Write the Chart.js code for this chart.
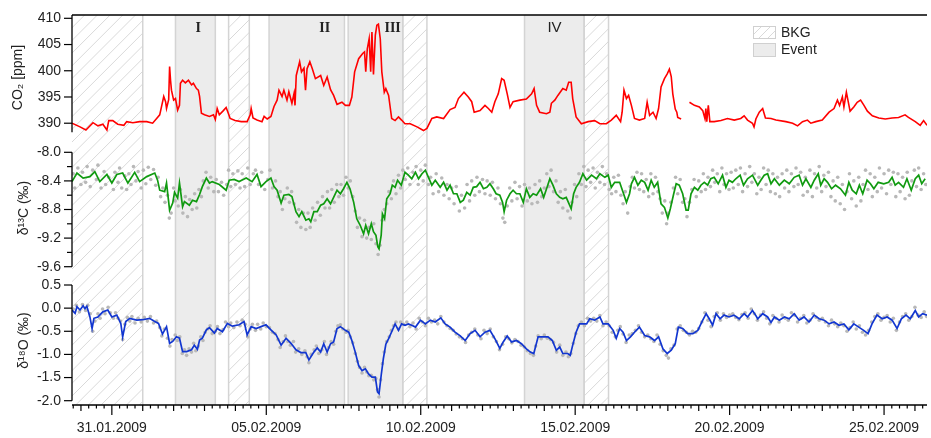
<!DOCTYPE html>
<html>
<head>
<meta charset="utf-8">
<script src="https://cdn.jsdelivr.net/npm/chart.js@4/dist/chart.umd.min.js"></script>
<style>
  html, body { margin: 0; padding: 0; background: #fff; }
  canvas { display: block; }
</style>
</head>
<body>
<canvas id="chart" width="931" height="438"></canvas>
<script>
// ---------- data (x = days after 31.01.2009 00:00) ----------
const majorDays = [0, 5, 10, 15, 20, 25];
const co2Ticks = [390, 395, 400, 405, 410];
const c13Ticks = [-8.0, -8.4, -8.8, -9.2, -9.6];
const c13MinorTicks = [-8.2, -8.6, -9.0, -9.4];
const o18Ticks = [0.5, 0.0, -0.5, -1.0, -1.5, -2.0];

const bkgBands = [[-1.29, 1.0], [3.78, 4.45], [9.42, 10.2], [15.29, 16.08]];
const eventBands = [[2.06, 3.35], [5.09, 7.53], [7.65, 9.42], [13.36, 15.29]];
const eventNames = ['I', 'II', 'III', 'IV'];
const eventLabelDay = [2.80, 6.89, 9.09, 14.33];

// CO2 [ppm]
const co2Series = [[-1.29,390.0],[-1.03,389.3],[-0.84,388.7],[-0.61,390.1],[-0.45,389.5],[-0.29,389.8],[-0.16,388.7],[-0.10,390.5],[0.03,390.5],[0.19,389.8],[0.39,389.6],[0.48,390.3],[0.68,390.1],[0.90,390.3],[1.13,390.3],[1.32,390.0],[1.45,390.9],[1.55,391.6],[1.61,393.2],[1.68,395.1],[1.74,394.1],[1.77,392.8],[1.84,394.5],[1.87,400.8],[1.90,398.2],[1.93,396.3],[2.00,394.4],[2.06,394.7],[2.13,392.5],[2.19,393.4],[2.22,397.6],[2.29,398.2],[2.38,397.7],[2.48,398.2],[2.58,397.3],[2.64,397.6],[2.74,396.6],[2.80,396.3],[2.84,395.1],[2.90,391.9],[3.00,391.6],[3.16,391.3],[3.29,391.6],[3.35,390.7],[3.41,392.8],[3.48,391.6],[3.61,392.4],[3.70,393.0],[3.77,391.9],[3.83,390.9],[3.99,390.5],[4.19,390.3],[4.38,390.3],[4.48,391.6],[4.51,392.8],[4.57,391.0],[4.70,390.6],[4.86,390.3],[4.93,391.3],[5.03,390.8],[5.15,391.3],[5.25,393.2],[5.35,394.4],[5.41,396.3],[5.51,395.1],[5.57,396.3],[5.67,394.4],[5.73,396.0],[5.83,393.8],[5.90,395.7],[5.93,393.4],[5.97,399.1],[6.08,401.7],[6.14,399.8],[6.22,400.5],[6.27,396.3],[6.32,400.4],[6.41,401.7],[6.49,400.4],[6.59,398.5],[6.76,399.1],[6.86,397.2],[6.97,398.8],[7.08,396.4],[7.18,395.3],[7.29,393.6],[7.45,394.0],[7.56,393.4],[7.69,393.4],[7.77,395.0],[7.86,399.8],[7.99,402.3],[8.12,403.3],[8.18,403.6],[8.22,399.8],[8.27,404.2],[8.33,406.1],[8.38,399.8],[8.42,407.4],[8.47,399.3],[8.53,406.8],[8.58,408.7],[8.63,408.9],[8.69,406.1],[8.74,399.8],[8.82,395.9],[8.87,396.6],[8.96,395.3],[9.06,390.9],[9.17,390.5],[9.28,391.2],[9.38,390.6],[9.49,389.9],[9.66,389.9],[9.88,389.3],[10.09,388.6],[10.20,389.0],[10.36,390.9],[10.52,391.2],[10.74,390.9],[10.95,392.6],[11.11,393.0],[11.22,394.7],[11.40,395.9],[11.54,395.0],[11.65,394.1],[11.73,392.1],[11.92,392.4],[12.08,393.4],[12.19,392.8],[12.30,392.1],[12.40,394.1],[12.51,395.6],[12.62,398.5],[12.70,398.2],[12.80,395.6],[12.89,393.0],[12.99,394.1],[13.21,394.4],[13.42,394.6],[13.59,395.6],[13.67,396.6],[13.75,393.4],[13.85,392.1],[14.07,391.8],[14.18,392.1],[14.23,393.8],[14.34,394.4],[14.44,395.3],[14.60,396.6],[14.71,396.3],[14.79,397.8],[14.87,397.8],[14.92,394.7],[15.03,391.2],[15.20,389.9],[15.42,390.3],[15.63,390.5],[15.80,389.9],[16.01,389.9],[16.17,390.6],[16.33,391.5],[16.47,390.3],[16.52,392.1],[16.58,396.3],[16.66,394.7],[16.73,395.3],[16.82,393.4],[16.92,390.9],[17.08,390.6],[17.25,390.9],[17.33,394.0],[17.41,391.5],[17.52,392.1],[17.62,390.9],[17.70,392.8],[17.78,396.9],[17.89,398.5],[17.98,399.4],[18.05,400.3],[18.11,398.9],[18.16,395.6],[18.24,392.7],[18.29,392.1],[18.32,391.1],[18.43,390.8],[18.55,null],[18.70,394.0],[18.86,393.4],[19.02,393.1],[19.13,392.4],[19.20,390.9],[19.23,392.8],[19.26,390.3],[19.31,393.4],[19.36,390.3],[19.50,390.3],[19.72,390.5],[19.93,390.9],[20.15,390.6],[20.36,390.9],[20.47,391.4],[20.58,390.6],[20.74,390.0],[20.79,389.3],[20.85,390.8],[20.96,392.1],[21.07,392.8],[21.16,391.0],[21.34,390.9],[21.50,390.6],[21.82,390.3],[22.04,390.0],[22.20,389.5],[22.36,390.3],[22.52,390.6],[22.63,390.0],[22.79,390.3],[23.00,390.6],[23.22,392.1],[23.38,392.8],[23.49,394.4],[23.56,393.4],[23.65,395.0],[23.70,393.1],[23.78,395.9],[23.83,394.4],[23.90,392.3],[24.02,393.1],[24.13,394.0],[24.24,394.4],[24.35,393.4],[24.46,392.3],[24.62,391.4],[24.83,391.0],[25.04,390.8],[25.26,391.0],[25.47,391.1],[25.68,391.6],[25.79,391.1],[26.01,390.3],[26.17,389.6],[26.28,390.5],[26.39,389.6]];

// d13C smoothed line
const c13Line = [[-1.29,-8.41],[-1.13,-8.29],[-0.93,-8.36],[-0.71,-8.34],[-0.55,-8.27],[-0.39,-8.41],[-0.16,-8.31],[0,-8.43],[0.16,-8.31],[0.35,-8.29],[0.52,-8.43],[0.74,-8.28],[0.90,-8.41],[1.13,-8.34],[1.39,-8.29],[1.48,-8.39],[1.55,-8.53],[1.71,-8.55],[1.77,-8.43],[1.87,-8.81],[1.97,-8.71],[2.03,-8.56],[2.13,-8.64],[2.19,-8.43],[2.29,-8.76],[2.35,-8.69],[2.51,-8.74],[2.61,-8.67],[2.74,-8.69],[2.84,-8.59],[2.93,-8.48],[3.06,-8.36],[3.16,-8.43],[3.25,-8.41],[3.48,-8.45],[3.70,-8.53],[3.80,-8.39],[3.96,-8.38],[4.12,-8.41],[4.35,-8.36],[4.54,-8.41],[4.70,-8.31],[4.83,-8.48],[4.99,-8.41],[5.15,-8.36],[5.25,-8.48],[5.35,-8.53],[5.48,-8.71],[5.57,-8.60],[5.73,-8.59],[5.83,-8.62],[5.96,-8.83],[6.06,-8.90],[6.15,-8.83],[6.28,-8.95],[6.38,-8.93],[6.44,-8.97],[6.54,-8.83],[6.65,-8.83],[6.76,-8.74],[6.86,-8.72],[6.97,-8.65],[7.08,-8.72],[7.18,-8.63],[7.29,-8.53],[7.40,-8.58],[7.50,-8.51],[7.61,-8.42],[7.71,-8.51],[7.83,-8.70],[7.93,-8.93],[8.04,-9.02],[8.15,-9.14],[8.22,-9.02],[8.31,-9.14],[8.40,-9.00],[8.47,-9.11],[8.55,-9.16],[8.61,-9.32],[8.65,-9.35],[8.72,-9.16],[8.76,-8.86],[8.83,-8.93],[8.90,-8.65],[9.01,-8.58],[9.08,-8.46],[9.17,-8.49],[9.25,-8.39],[9.37,-8.46],[9.49,-8.28],[9.60,-8.32],[9.71,-8.37],[9.83,-8.28],[9.93,-8.37],[10.04,-8.30],[10.15,-8.25],[10.25,-8.35],[10.36,-8.46],[10.47,-8.39],[10.63,-8.49],[10.74,-8.42],[10.85,-8.53],[10.95,-8.46],[11.06,-8.58],[11.17,-8.58],[11.28,-8.70],[11.38,-8.67],[11.49,-8.56],[11.60,-8.60],[11.70,-8.49],[11.81,-8.48],[11.92,-8.42],[12.03,-8.51],[12.14,-8.49],[12.24,-8.44],[12.35,-8.51],[12.44,-8.58],[12.56,-8.60],[12.65,-8.70],[12.70,-8.83],[12.78,-8.67],[12.89,-8.58],[12.99,-8.53],[13.10,-8.58],[13.21,-8.58],[13.32,-8.70],[13.42,-8.51],[13.53,-8.63],[13.64,-8.58],[13.75,-8.60],[13.88,-8.51],[13.98,-8.63],[14.09,-8.49],[14.18,-8.37],[14.28,-8.46],[14.39,-8.58],[14.50,-8.63],[14.60,-8.65],[14.71,-8.63],[14.82,-8.74],[14.87,-8.79],[14.95,-8.58],[15.03,-8.49],[15.14,-8.42],[15.25,-8.30],[15.37,-8.39],[15.53,-8.32],[15.69,-8.37],[15.80,-8.30],[15.96,-8.35],[16.07,-8.32],[16.17,-8.49],[16.28,-8.42],[16.44,-8.42],[16.55,-8.56],[16.66,-8.70],[16.76,-8.58],[16.82,-8.44],[16.92,-8.35],[17.03,-8.46],[17.14,-8.39],[17.25,-8.42],[17.36,-8.53],[17.46,-8.39],[17.56,-8.49],[17.67,-8.42],[17.78,-8.72],[17.89,-8.77],[18.00,-8.92],[18.08,-8.79],[18.19,-8.58],[18.27,-8.44],[18.37,-8.46],[18.48,-8.58],[18.59,-8.81],[18.66,-8.81],[18.75,-8.58],[18.86,-8.49],[18.97,-8.53],[19.07,-8.46],[19.18,-8.42],[19.29,-8.46],[19.39,-8.37],[19.50,-8.35],[19.63,-8.44],[19.77,-8.32],[19.88,-8.49],[19.98,-8.39],[20.09,-8.42],[20.20,-8.37],[20.34,-8.32],[20.45,-8.46],[20.58,-8.37],[20.74,-8.32],[20.91,-8.46],[21.01,-8.39],[21.12,-8.32],[21.23,-8.30],[21.34,-8.44],[21.45,-8.37],[21.61,-8.46],[21.77,-8.39],[21.93,-8.44],[22.09,-8.35],[22.25,-8.32],[22.36,-8.46],[22.47,-8.37],[22.63,-8.49],[22.74,-8.39],[22.87,-8.30],[22.95,-8.46],[23.06,-8.37],[23.17,-8.42],[23.30,-8.51],[23.43,-8.46],[23.59,-8.51],[23.75,-8.60],[23.86,-8.42],[23.97,-8.53],[24.10,-8.58],[24.20,-8.46],[24.31,-8.58],[24.45,-8.39],[24.56,-8.44],[24.67,-8.51],[24.81,-8.42],[24.99,-8.44],[25.15,-8.42],[25.26,-8.35],[25.36,-8.46],[25.47,-8.42],[25.63,-8.49],[25.74,-8.37],[25.88,-8.53],[26.01,-8.37],[26.12,-8.32],[26.22,-8.44],[26.33,-8.37]];

// d13C raw measurements (grey dots)
const c13Raw = [[-1.25,-8.30],[-1.2,-8.50],[-1.1,-8.22],[-1.0,-8.45],[-0.95,-8.28],[-0.85,-8.42],[-0.8,-8.20],[-0.7,-8.48],[-0.62,-8.25],[-0.5,-8.38],[-0.45,-8.18],[-0.35,-8.50],[-0.25,-8.27],[-0.2,-8.45],[-0.1,-8.35],[0.05,-8.52],[0.1,-8.28],[0.2,-8.42],[0.25,-8.22],[0.32,-8.50],[0.42,-8.33],[0.48,-8.52],[0.55,-8.30],[0.62,-8.45],[0.7,-8.20],[0.78,-8.40],[0.85,-8.27],[0.95,-8.50],[1.02,-8.25],[1.1,-8.44],[1.18,-8.21],[1.26,-8.38],[1.35,-8.24],[1.42,-8.46],[1.5,-8.35],[1.58,-8.62],[1.65,-8.50],[1.72,-8.70],[1.8,-8.60],[1.86,-8.92],[1.92,-8.85],[2.0,-8.50],[2.05,-8.68],[2.15,-8.75],[2.22,-8.52],[2.3,-8.85],[2.38,-8.62],[2.45,-8.90],[2.52,-8.66],[2.6,-8.80],[2.68,-8.58],[2.75,-8.78],[2.82,-8.52],[2.9,-8.62],[2.96,-8.40],[3.05,-8.28],[3.12,-8.50],[3.2,-8.35],[3.3,-8.55],[3.38,-8.38],[3.45,-8.55],[3.55,-8.42],[3.62,-8.60],[3.72,-8.45],[3.78,-8.25],[3.85,-8.48],[3.92,-8.30],[4.0,-8.45],[4.08,-8.26],[4.15,-8.50],[4.22,-8.30],[4.3,-8.48],[4.4,-8.22],[4.48,-8.45],[4.58,-8.30],[4.65,-8.25],[4.75,-8.45],[4.85,-8.28],[4.95,-8.52],[5.05,-8.38],[5.12,-8.25],[5.2,-8.50],[5.3,-8.40],[5.38,-8.62],[5.45,-8.55],[5.52,-8.80],[5.6,-8.65],[5.68,-8.50],[5.75,-8.70],[5.82,-8.55],[5.9,-8.72],[5.98,-8.98],[6.05,-8.80],[6.12,-9.05],[6.2,-8.85],[6.28,-9.08],[6.35,-8.85],[6.42,-9.05],[6.5,-8.78],[6.58,-8.95],[6.66,-8.70],[6.75,-8.88],[6.82,-8.62],[6.9,-8.78],[6.98,-8.55],[7.05,-8.78],[7.12,-8.52],[7.2,-8.70],[7.28,-8.45],[7.35,-8.62],[7.42,-8.45],[7.5,-8.60],[7.58,-8.35],[7.65,-8.50],[7.72,-8.40],[7.8,-8.62],[7.88,-8.82],[7.95,-9.05],[8.02,-8.92],[8.1,-9.18],[8.18,-8.95],[8.25,-9.20],[8.32,-9.05],[8.4,-9.22],[8.48,-9.00],[8.55,-9.28],[8.62,-9.43],[8.68,-9.30],[8.75,-8.95],[8.82,-8.80],[8.9,-8.72],[8.97,-8.55],[9.05,-8.65],[9.12,-8.40],[9.2,-8.58],[9.28,-8.32],[9.35,-8.50],[9.42,-8.25],[9.5,-8.38],[9.58,-8.22],[9.65,-8.45],[9.75,-8.28],[9.85,-8.20],[9.92,-8.45],[10.0,-8.25],[10.08,-8.40],[10.15,-8.18],[10.25,-8.45],[10.32,-8.35],[10.4,-8.58],[10.5,-8.30],[10.58,-8.55],[10.68,-8.36],[10.75,-8.60],[10.85,-8.45],[10.92,-8.65],[11.0,-8.50],[11.08,-8.72],[11.15,-8.48],[11.25,-8.82],[11.32,-8.60],[11.42,-8.78],[11.5,-8.45],[11.58,-8.68],[11.65,-8.40],[11.75,-8.60],[11.82,-8.35],[11.9,-8.55],[12.0,-8.38],[12.08,-8.58],[12.15,-8.40],[12.25,-8.60],[12.32,-8.42],[12.42,-8.65],[12.5,-8.50],[12.58,-8.72],[12.66,-8.92],[12.72,-8.98],[12.8,-8.75],[12.88,-8.50],[12.95,-8.68],[13.05,-8.42],[13.12,-8.65],[13.2,-8.48],[13.28,-8.75],[13.36,-8.45],[13.45,-8.68],[13.52,-8.50],[13.6,-8.72],[13.7,-8.45],[13.78,-8.70],[13.85,-8.40],[13.92,-8.62],[14.0,-8.50],[14.08,-8.30],[14.15,-8.48],[14.22,-8.25],[14.3,-8.55],[14.38,-8.40],[14.45,-8.70],[14.52,-8.55],[14.6,-8.78],[14.68,-8.52],[14.76,-8.82],[14.84,-8.92],[14.9,-8.70],[14.98,-8.45],[15.05,-8.62],[15.12,-8.30],[15.2,-8.45],[15.28,-8.20],[15.35,-8.48],[15.42,-8.25],[15.5,-8.42],[15.58,-8.22],[15.65,-8.50],[15.72,-8.28],[15.8,-8.42],[15.88,-8.20],[15.95,-8.45],[16.02,-8.30],[16.1,-8.52],[16.18,-8.58],[16.25,-8.35],[16.32,-8.55],[16.4,-8.32],[16.48,-8.60],[16.55,-8.72],[16.62,-8.55],[16.7,-8.85],[16.78,-8.48],[16.85,-8.35],[16.92,-8.50],[17.0,-8.28],[17.08,-8.52],[17.15,-8.30],[17.22,-8.55],[17.3,-8.38],[17.38,-8.62],[17.45,-8.30],[17.52,-8.58],[17.6,-8.35],[17.68,-8.55],[17.75,-8.65],[17.82,-8.85],[17.9,-8.68],[17.96,-9.00],[18.02,-8.85],[18.1,-8.70],[18.18,-8.50],[18.25,-8.35],[18.32,-8.58],[18.4,-8.38],[18.48,-8.70],[18.55,-8.65],[18.62,-8.90],[18.7,-8.70],[18.78,-8.52],[18.85,-8.38],[18.92,-8.62],[19.0,-8.40],[19.08,-8.55],[19.15,-8.30],[19.22,-8.52],[19.3,-8.35],[19.38,-8.48],[19.45,-8.25],[19.52,-8.42],[19.6,-8.30],[19.68,-8.55],[19.75,-8.22],[19.82,-8.45],[19.9,-8.30],[19.98,-8.52],[20.05,-8.28],[20.12,-8.50],[20.2,-8.25],[20.28,-8.45],[20.35,-8.22],[20.42,-8.55],[20.5,-8.30],[20.58,-8.48],[20.65,-8.20],[20.72,-8.42],[20.8,-8.30],[20.88,-8.58],[20.95,-8.35],[21.02,-8.52],[21.1,-8.22],[21.18,-8.45],[21.25,-8.25],[21.32,-8.55],[21.4,-8.30],[21.48,-8.58],[21.55,-8.35],[21.62,-8.62],[21.7,-8.30],[21.78,-8.50],[21.85,-8.25],[21.92,-8.55],[22.0,-8.30],[22.08,-8.48],[22.15,-8.22],[22.22,-8.45],[22.3,-8.28],[22.38,-8.60],[22.45,-8.35],[22.52,-8.55],[22.6,-8.25],[22.68,-8.62],[22.75,-8.30],[22.82,-8.50],[22.9,-8.20],[22.98,-8.55],[23.05,-8.32],[23.12,-8.48],[23.2,-8.28],[23.28,-8.62],[23.35,-8.40],[23.42,-8.68],[23.5,-8.35],[23.58,-8.72],[23.65,-8.45],[23.72,-8.80],[23.8,-8.55],[23.88,-8.30],[23.95,-8.65],[24.02,-8.40],[24.1,-8.75],[24.18,-8.35],[24.25,-8.68],[24.32,-8.45],[24.4,-8.25],[24.48,-8.52],[24.55,-8.30],[24.62,-8.62],[24.7,-8.35],[24.78,-8.55],[24.85,-8.22],[24.92,-8.50],[25.0,-8.30],[25.08,-8.58],[25.15,-8.25],[25.22,-8.45],[25.3,-8.28],[25.38,-8.62],[25.45,-8.30],[25.52,-8.55],[25.6,-8.35],[25.68,-8.65],[25.75,-8.28],[25.82,-8.60],[25.9,-8.40],[25.98,-8.25],[26.05,-8.48],[26.12,-8.22],[26.2,-8.52],[26.28,-8.30],[26.35,-8.45]];

// d18O smoothed line
const o18Line = [[-1.29,-0.04],[-1.19,-0.11],[-1.13,0.03],[-1.03,-0.04],[-0.93,0.05],[-0.87,-0.01],[-0.81,0.04],[-0.71,-0.19],[-0.64,-0.44],[-0.58,-0.22],[-0.45,-0.19],[-0.29,-0.08],[-0.13,-0.04],[0,-0.19],[0.16,-0.15],[0.29,-0.33],[0.35,-0.62],[0.45,-0.29],[0.58,-0.22],[0.81,-0.26],[1.00,-0.25],[1.22,-0.22],[1.39,-0.29],[1.51,-0.33],[1.64,-0.56],[1.77,-0.40],[1.87,-0.76],[1.97,-0.72],[2.09,-0.62],[2.19,-0.65],[2.29,-0.94],[2.42,-0.94],[2.58,-0.90],[2.67,-0.80],[2.77,-0.89],[2.84,-0.69],[2.93,-0.65],[3.06,-0.47],[3.16,-0.42],[3.32,-0.54],[3.41,-0.44],[3.58,-0.51],[3.74,-0.33],[3.90,-0.39],[4.12,-0.36],[4.28,-0.29],[4.38,-0.58],[4.51,-0.40],[4.67,-0.44],[4.83,-0.40],[4.99,-0.36],[5.15,-0.47],[5.32,-0.58],[5.48,-0.80],[5.64,-0.65],[5.80,-0.76],[5.96,-0.90],[6.12,-0.96],[6.28,-0.96],[6.38,-1.12],[6.54,-0.95],[6.65,-0.86],[6.76,-0.95],[6.86,-0.77],[6.97,-0.95],[7.08,-0.77],[7.18,-0.73],[7.29,-0.44],[7.40,-0.40],[7.56,-0.48],[7.67,-0.52],[7.77,-0.70],[7.88,-0.95],[7.99,-1.24],[8.10,-1.35],[8.21,-1.31],[8.31,-1.42],[8.42,-1.49],[8.53,-1.49],[8.60,-1.81],[8.65,-1.85],[8.72,-1.45],[8.79,-1.09],[8.87,-0.78],[8.96,-0.66],[9.06,-0.51],[9.17,-0.34],[9.28,-0.48],[9.38,-0.34],[9.49,-0.37],[9.60,-0.34],[9.71,-0.37],[9.83,-0.41],[9.99,-0.26],[10.15,-0.34],[10.31,-0.26],[10.47,-0.30],[10.65,-0.21],[10.79,-0.34],[10.95,-0.41],[11.11,-0.52],[11.28,-0.60],[11.44,-0.70],[11.60,-0.55],[11.76,-0.48],[11.92,-0.62],[12.08,-0.52],[12.24,-0.48],[12.40,-0.66],[12.56,-0.87],[12.67,-0.73],[12.80,-0.60],[12.94,-0.73],[13.10,-0.70],[13.26,-0.77],[13.42,-0.88],[13.55,-0.95],[13.66,-0.98],[13.80,-0.62],[13.96,-0.62],[14.12,-0.62],[14.26,-0.70],[14.39,-0.91],[14.50,-0.84],[14.60,-0.98],[14.76,-0.98],[14.84,-1.02],[14.92,-0.80],[15.03,-0.52],[15.14,-0.34],[15.25,-0.34],[15.37,-0.34],[15.47,-0.23],[15.63,-0.26],[15.80,-0.19],[15.90,-0.34],[16.07,-0.34],[16.23,-0.48],[16.33,-0.65],[16.44,-0.44],[16.55,-0.52],[16.66,-0.70],[16.79,-0.62],[16.92,-0.52],[17.08,-0.41],[17.25,-0.59],[17.41,-0.62],[17.57,-0.70],[17.70,-0.62],[17.84,-0.88],[17.98,-0.98],[18.11,-0.91],[18.24,-0.77],[18.34,-0.41],[18.48,-0.44],[18.64,-0.55],[18.81,-0.55],[18.97,-0.48],[19.13,-0.26],[19.24,-0.12],[19.34,-0.23],[19.45,-0.37],[19.56,-0.12],[19.69,-0.23],[19.82,-0.15],[19.98,-0.19],[20.14,-0.15],[20.31,-0.23],[20.47,-0.12],[20.58,-0.19],[20.74,-0.05],[20.84,-0.15],[20.91,-0.23],[21.07,-0.12],[21.23,-0.19],[21.34,-0.31],[21.45,-0.19],[21.61,-0.26],[21.77,-0.19],[21.93,-0.23],[22.09,-0.12],[22.25,-0.26],[22.41,-0.19],[22.57,-0.30],[22.74,-0.15],[22.90,-0.23],[23.06,-0.26],[23.22,-0.34],[23.38,-0.30],[23.54,-0.37],[23.70,-0.34],[23.86,-0.47],[24.02,-0.34],[24.18,-0.41],[24.34,-0.48],[24.48,-0.55],[24.61,-0.34],[24.77,-0.15],[24.94,-0.23],[25.10,-0.19],[25.26,-0.26],[25.42,-0.44],[25.56,-0.23],[25.71,-0.15],[25.85,-0.23],[26.01,-0.05],[26.12,-0.19],[26.25,-0.12],[26.39,-0.15]];

// d18O raw measurements (grey dots)
const o18Raw = [[-1.25,-0.02],[-1.15,0.06],[-1.05,-0.08],[-0.95,0.08],[-0.85,-0.05],[-0.78,0.06],[-0.7,-0.12],[-0.62,-0.50],[-0.55,-0.28],[-0.45,-0.12],[-0.38,-0.22],[-0.3,-0.02],[-0.22,-0.12],[-0.12,0.02],[-0.05,-0.10],[0.05,-0.22],[0.12,-0.10],[0.2,-0.22],[0.28,-0.28],[0.35,-0.68],[0.42,-0.35],[0.5,-0.20],[0.58,-0.28],[0.65,-0.18],[0.75,-0.32],[0.85,-0.22],[0.95,-0.30],[1.05,-0.20],[1.15,-0.28],[1.25,-0.18],[1.35,-0.32],[1.45,-0.28],[1.55,-0.42],[1.62,-0.60],[1.7,-0.45],[1.8,-0.65],[1.88,-0.82],[1.95,-0.68],[2.05,-0.58],[2.12,-0.70],[2.2,-0.62],[2.28,-0.98],[2.35,-0.90],[2.42,-1.02],[2.5,-0.88],[2.58,-0.95],[2.65,-0.76],[2.72,-0.92],[2.8,-0.82],[2.88,-0.62],[2.95,-0.70],[3.02,-0.52],[3.1,-0.45],[3.18,-0.38],[3.25,-0.55],[3.35,-0.50],[3.42,-0.40],[3.5,-0.55],[3.6,-0.46],[3.68,-0.30],[3.78,-0.40],[3.85,-0.32],[3.95,-0.42],[4.05,-0.30],[4.15,-0.38],[4.22,-0.26],[4.32,-0.35],[4.4,-0.62],[4.48,-0.45],[4.55,-0.35],[4.65,-0.48],[4.72,-0.35],[4.82,-0.45],[4.9,-0.32],[5.0,-0.40],[5.1,-0.42],[5.2,-0.52],[5.28,-0.55],[5.38,-0.68],[5.45,-0.85],[5.55,-0.72],[5.62,-0.60],[5.7,-0.72],[5.78,-0.80],[5.88,-0.72],[5.95,-0.95],[6.05,-0.88],[6.15,-1.00],[6.25,-0.92],[6.32,-1.05],[6.38,-1.18],[6.45,-1.00],[6.55,-0.90],[6.62,-0.82],[6.7,-0.98],[6.8,-0.90],[6.88,-0.72],[6.95,-1.00],[7.02,-0.85],[7.1,-0.72],[7.18,-0.78],[7.25,-0.50],[7.32,-0.38],[7.4,-0.36],[7.48,-0.45],[7.58,-0.52],[7.65,-0.48],[7.72,-0.62],[7.8,-0.75],[7.88,-0.98],[7.95,-1.15],[8.02,-1.28],[8.1,-1.40],[8.18,-1.28],[8.25,-1.38],[8.32,-1.46],[8.4,-1.45],[8.48,-1.55],[8.55,-1.52],[8.6,-1.76],[8.65,-1.92],[8.7,-1.55],[8.76,-1.20],[8.82,-0.95],[8.9,-0.72],[8.98,-0.62],[9.05,-0.48],[9.12,-0.38],[9.2,-0.30],[9.28,-0.45],[9.35,-0.30],[9.45,-0.35],[9.55,-0.30],[9.65,-0.40],[9.75,-0.32],[9.85,-0.45],[9.95,-0.22],[10.05,-0.30],[10.15,-0.38],[10.25,-0.22],[10.35,-0.30],[10.45,-0.26],[10.55,-0.34],[10.65,-0.18],[10.75,-0.30],[10.85,-0.38],[10.95,-0.44],[11.05,-0.48],[11.15,-0.56],[11.25,-0.62],[11.35,-0.66],[11.45,-0.74],[11.55,-0.58],[11.65,-0.52],[11.75,-0.45],[11.85,-0.58],[11.95,-0.66],[12.05,-0.48],[12.15,-0.55],[12.25,-0.45],[12.35,-0.62],[12.45,-0.72],[12.55,-0.90],[12.65,-0.78],[12.75,-0.62],[12.85,-0.66],[12.95,-0.75],[13.05,-0.68],[13.15,-0.72],[13.25,-0.80],[13.35,-0.84],[13.45,-0.92],[13.55,-0.98],[13.65,-1.02],[13.72,-0.82],[13.8,-0.60],[13.9,-0.66],[14.0,-0.58],[14.1,-0.65],[14.2,-0.68],[14.3,-0.74],[14.4,-0.95],[14.5,-0.80],[14.6,-1.02],[14.7,-0.95],[14.78,-1.05],[14.86,-0.98],[14.94,-0.76],[15.02,-0.55],[15.1,-0.38],[15.2,-0.30],[15.3,-0.38],[15.4,-0.22],[15.5,-0.28],[15.6,-0.22],[15.7,-0.28],[15.8,-0.16],[15.9,-0.38],[16.0,-0.30],[16.1,-0.38],[16.2,-0.52],[16.3,-0.62],[16.38,-0.48],[16.46,-0.40],[16.55,-0.56],[16.65,-0.74],[16.75,-0.58],[16.85,-0.55],[16.95,-0.48],[17.05,-0.38],[17.15,-0.52],[17.25,-0.62],[17.35,-0.58],[17.45,-0.66],[17.55,-0.72],[17.65,-0.58],[17.75,-0.78],[17.85,-0.92],[17.95,-1.02],[18.02,-1.08],[18.1,-0.88],[18.2,-0.80],[18.3,-0.45],[18.4,-0.38],[18.5,-0.48],[18.6,-0.52],[18.7,-0.58],[18.8,-0.50],[18.9,-0.52],[19.0,-0.44],[19.1,-0.30],[19.2,-0.10],[19.3,-0.26],[19.4,-0.40],[19.5,-0.18],[19.6,-0.10],[19.7,-0.26],[19.8,-0.12],[19.9,-0.20],[20.0,-0.15],[20.1,-0.12],[20.2,-0.20],[20.3,-0.25],[20.4,-0.14],[20.5,-0.10],[20.6,-0.22],[20.7,-0.02],[20.8,-0.12],[20.9,-0.26],[21.0,-0.15],[21.1,-0.08],[21.2,-0.22],[21.3,-0.34],[21.4,-0.16],[21.5,-0.22],[21.6,-0.30],[21.7,-0.15],[21.8,-0.22],[21.9,-0.26],[22.0,-0.10],[22.1,-0.15],[22.2,-0.30],[22.3,-0.22],[22.4,-0.16],[22.5,-0.32],[22.6,-0.26],[22.7,-0.12],[22.8,-0.20],[22.9,-0.26],[23.0,-0.22],[23.1,-0.30],[23.2,-0.38],[23.3,-0.26],[23.4,-0.34],[23.5,-0.40],[23.6,-0.32],[23.7,-0.38],[23.8,-0.50],[23.9,-0.42],[24.0,-0.30],[24.1,-0.45],[24.2,-0.38],[24.3,-0.52],[24.4,-0.58],[24.5,-0.48],[24.6,-0.30],[24.7,-0.18],[24.8,-0.12],[24.9,-0.26],[25.0,-0.20],[25.1,-0.16],[25.2,-0.30],[25.3,-0.22],[25.4,-0.48],[25.5,-0.30],[25.6,-0.18],[25.7,-0.12],[25.8,-0.26],[25.9,-0.18],[26.0,0.02],[26.1,-0.15],[26.2,-0.20],[26.3,-0.08],[26.38,-0.18]];

// ---------- helpers ----------
const FONT = '"Liberation Sans", Arial, Helvetica, sans-serif';
const START = Date.UTC(2009, 0, 31);
const DAY_MS = 86400000;

function fmtDate(d) {
  const dt = new Date(START + Math.round(d) * DAY_MS);
  const dd = String(dt.getUTCDate()).padStart(2, '0');
  const mm = String(dt.getUTCMonth() + 1).padStart(2, '0');
  return dd + '.' + mm + '.' + dt.getUTCFullYear();
}

const toXY = arr => arr.map(p => ({ x: p[0], y: p[1] }));

function panelAxis(order, weight, min, max, ticks, fmt, title, titlePad) {
  return {
    type: 'linear', position: 'left', stack: 'panels', stackWeight: weight, weight: order,
    min, max,
    afterBuildTicks: s => { s.ticks = ticks.map(v => ({ value: v })); },
    afterFit: s => { s.width = 72; },
    ticks: { callback: fmt, padding: 3, autoSkip: false, color: '#222', font: { family: FONT, size: 14 } },
    grid: { display: false, drawTicks: true, tickLength: 8 },
    border: { display: false },
    title: { display: true, text: title, color: '#222', font: { family: FONT, size: 14 }, padding: { top: titlePad, bottom: 0 } }
  };
}

function hatch(ctx, l, t, r, b, step) {
  ctx.save();
  ctx.beginPath();
  ctx.rect(l, t, r - l, b - t);
  ctx.clip();
  ctx.strokeStyle = '#d9d9d9';
  ctx.lineWidth = 1;
  ctx.beginPath();
  const h = b - t;
  for (let k = l - h; k < r; k += step) {
    ctx.moveTo(k, b);
    ctx.lineTo(k + h, t);
  }
  ctx.stroke();
  ctx.restore();
}

// ---------- bands, axes, labels, legend ----------
const panelPlugin = {
  id: 'panels',
  beforeDatasetsDraw(chart) {
    const { ctx, chartArea: a, scales: { x } } = chart;
    const span = b => [Math.max(a.left, x.getPixelForValue(b[0])), Math.min(a.right, x.getPixelForValue(b[1]))];
    ctx.save();
    eventBands.forEach(b => {
      const [l, r] = span(b);
      ctx.fillStyle = '#ececec';
      ctx.fillRect(l, a.top, r - l, a.bottom - a.top);
    });
    bkgBands.forEach(b => {
      const [l, r] = span(b);
      ctx.fillStyle = '#ffffff';
      ctx.fillRect(l, a.top, r - l, a.bottom - a.top);
      hatch(ctx, l, a.top, r, a.bottom, 12.7);
    });
    ctx.strokeStyle = '#d4d4d4';
    ctx.lineWidth = 1.5;
    eventBands.concat(bkgBands).forEach(b => {
      span(b).forEach(px => {
        if (px <= a.left + 1) return;
        ctx.beginPath();
        ctx.moveTo(px, a.top);
        ctx.lineTo(px, a.bottom);
        ctx.stroke();
      });
    });
    ctx.restore();
  },
  afterDatasetsDraw(chart) {
    const { ctx, chartArea: a, scales } = chart;
    const x = scales.x;
    ctx.save();
    ctx.strokeStyle = '#000';
    ctx.lineCap = 'butt';

    // top frame + x axis line
    ctx.lineWidth = 1.5;
    ctx.beginPath();
    ctx.moveTo(a.left, a.top); ctx.lineTo(a.right, a.top);
    ctx.moveTo(a.left, a.bottom); ctx.lineTo(a.right, a.bottom);
    ctx.stroke();

    // left axis segments
    const seg = (s, v0, v1) => {
      ctx.beginPath();
      ctx.moveTo(a.left, s.getPixelForValue(v0));
      ctx.lineTo(a.left, s.getPixelForValue(v1));
      ctx.stroke();
    };
    ctx.lineWidth = 1.3;
    seg(scales.yCO2, scales.yCO2.max, 388.3);
    seg(scales.yC13, -8.0, -9.6);
    seg(scales.yO18, 0.5, -2.0);

    // y ticks
    const yTick = (s, v, len) => {
      const py = s.getPixelForValue(v);
      ctx.beginPath();
      ctx.moveTo(a.left - len, py); ctx.lineTo(a.left, py);
      ctx.stroke();
    };
    ctx.lineWidth = 1.2;
    co2Ticks.forEach(v => yTick(scales.yCO2, v, 8));
    c13Ticks.forEach(v => yTick(scales.yC13, v, 8));
    c13MinorTicks.forEach(v => yTick(scales.yC13, v, 5));
    o18Ticks.forEach(v => yTick(scales.yO18, v, 8));

    // x ticks: 6 h minor, daily medium, 5-day major
    for (let q = Math.ceil(x.min * 4); q <= Math.floor(x.max * 4); q++) {
      const d = q / 4;
      const len = (q % 20 === 0) ? 10 : (q % 4 === 0 ? 6 : 3.5);
      const px = x.getPixelForValue(d);
      ctx.beginPath();
      ctx.moveTo(px, a.bottom); ctx.lineTo(px, a.bottom + len);
      ctx.stroke();
    }

    // event names
    ctx.fillStyle = '#222';
    ctx.textAlign = 'center';
    ctx.textBaseline = 'middle';
    eventNames.forEach((n, i) => {
      ctx.font = n === 'IV' ? '15px ' + FONT : 'bold 14px "Liberation Serif", "Times New Roman", serif';
      ctx.fillText(n, x.getPixelForValue(eventLabelDay[i]), a.top + 13);
    });

    // legend
    const lx = a.right - 174;
    const ly1 = a.top + 11, ly2 = a.top + 28;
    ctx.fillStyle = '#fff';
    ctx.fillRect(lx, ly1, 22, 12);
    hatch(ctx, lx, ly1, lx + 22, ly1 + 12, 9);
    ctx.fillStyle = '#ececec';
    ctx.fillRect(lx, ly2, 22, 13);
    ctx.strokeStyle = '#d0d0d0';
    ctx.lineWidth = 1;
    ctx.strokeRect(lx + 0.5, ly1 + 0.5, 22, 12);
    ctx.strokeRect(lx + 0.5, ly2 + 0.5, 22, 13);
    ctx.fillStyle = '#222';
    ctx.textAlign = 'left';
    ctx.font = '14px ' + FONT;
    ctx.fillText('BKG', lx + 28, ly1 + 7);
    ctx.fillText('Event', lx + 28, ly2 + 7);
    ctx.restore();
  }
};

// ---------- chart ----------
new Chart(document.getElementById('chart'), {
  type: 'line',
  data: {
    datasets: [
      { label: 'CO2', data: toXY(co2Series), yAxisID: 'yCO2', borderColor: '#ff0000', borderWidth: 1.6, pointRadius: 0, tension: 0, spanGaps: false, order: 1 },
      { label: 'd13C', data: toXY(c13Line), yAxisID: 'yC13', borderColor: '#109a10', borderWidth: 1.7, pointRadius: 0, tension: 0, order: 1 },
      { label: 'd18O', data: toXY(o18Line), yAxisID: 'yO18', borderColor: '#1236d0', borderWidth: 1.7, pointRadius: 0, tension: 0, order: 1 },
      { type: 'scatter', label: 'd13C raw', data: toXY(c13Raw), yAxisID: 'yC13', pointRadius: 1.8, pointBackgroundColor: '#b8b8b8', pointBorderWidth: 0, showLine: false, order: 2 },
      { type: 'scatter', label: 'd18O raw', data: toXY(o18Raw), yAxisID: 'yO18', pointRadius: 1.8, pointBackgroundColor: '#b8b8b8', pointBorderWidth: 0, showLine: false, order: 2 }
    ]
  },
  options: {
    responsive: false,
    animation: false,
    devicePixelRatio: 1,
    layout: { padding: { top: 15, right: 0, bottom: 0, left: 0 } },
    plugins: { legend: { display: false }, tooltip: { enabled: false } },
    scales: {
      x: {
        type: 'linear', position: 'bottom', min: -1.29, max: 26.39,
        afterBuildTicks: s => { s.ticks = majorDays.map(v => ({ value: v })); },
        afterFit: s => { s.height = 33; },
        ticks: { callback: v => fmtDate(v), autoSkip: false, maxRotation: 0, padding: 6, color: '#222', font: { family: FONT, size: 14 } },
        grid: { display: false, drawTicks: true, tickLength: 9 },
        border: { display: false }
      },
      yCO2: panelAxis(3, 125, 386.80, 410.63, co2Ticks, v => String(v), 'CO\u2082 [ppm]', 10),
      yC13: panelAxis(2, 136, -9.730, -7.828, c13Ticks, v => v.toFixed(1), '\u03B4\u00B9\u00B3C (\u2030)', 16),
      yO18: panelAxis(1, 129, -2.093, 0.6945, o18Ticks, v => v.toFixed(1), '\u03B4\u00B9\u2078O (\u2030)', 16)
    }
  },
  plugins: [panelPlugin]
});
</script>
</body>
</html>
